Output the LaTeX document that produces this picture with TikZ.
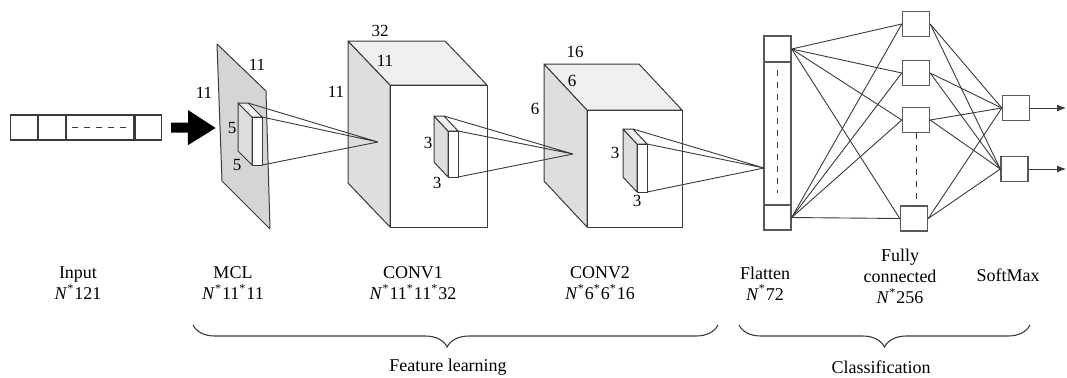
\documentclass[tikz,border=0pt]{standalone}
\usepackage{fontspec}
\setmainfont{Liberation Serif}
\usetikzlibrary{arrows.meta,decorations.pathreplacing,positioning}

\definecolor{planegray}{HTML}{D5D5D5}
\definecolor{sidegray}{HTML}{DEDEDE}
\definecolor{topgray}{HTML}{EFEFEF}
\definecolor{edgegray}{HTML}{3A3A3A}

% box seen from the front-right: front x1..x2, y1..y2, depth offset (dx,dy)
\newcommand{\cuboid}[6]{%
  \filldraw[face, fill=sidegray] (#1,#2) -- ++(#5,#6) -- ({#1+#5},{#4+#6}) -- (#1,#4) -- cycle;
  \filldraw[face, fill=topgray] (#1,#2) -- ++(#5,#6) -- ({#3+#5},{#2+#6}) -- (#3,#2) -- cycle;
  \filldraw[face, fill=white] (#1,#2) rectangle (#3,#4);
}

\begin{document}
\begin{tikzpicture}[x=0.5pt,y=-0.5pt,
    face/.style={draw=edgegray, line width=0.5pt, line join=round},
    cell/.style={draw=edgegray, line width=0.6pt, minimum width=13.3pt, minimum height=12.5pt, inner sep=0pt},
    unit/.style={draw=edgegray!85, line width=0.7pt, fill=white, minimum width=13.5pt, minimum height=12.5pt, inner sep=0pt},
    wire/.style={draw=edgegray, line width=0.45pt},
    dim/.style={font=\fontsize{8.5}{10}\selectfont, inner sep=0pt},
    caption/.style={font=\fontsize{9}{10.5}\selectfont, align=center, inner sep=0pt},
    group/.style={decorate, decoration={brace, mirror, amplitude=11pt}, draw=edgegray, line width=0.55pt}]
  \useasboundingbox (0,0) rectangle (1067,377);

  % input vector
  \node[cell] (inA) at (24,127.5) {};
  \node[cell, right=0pt of inA] (inB) {};
  \node[cell, right=0pt of inB, minimum width=33.7pt] (inC) {};
  \node[cell, right=0pt of inC] (inD) {};
  \draw[dashed, edgegray, line width=0.4pt] ([xshift=3pt]inC.west) -- ([xshift=-1.5pt]inC.east);

  % MCL plane
  \filldraw[face, fill=planegray] (217,44) -- (266,91) -- (270,229) -- (222,181) -- cycle;
  \coordinate (mclin) at (216,128);
  \draw[-{Triangle[length=14pt,width=16.5pt]}, line width=5pt] ([xshift=4.5pt]inD.east) -- (mclin);

  % conv blocks and kernels
  \cuboid{390}{85}{487}{227}{-42}{-44}
  \cuboid{587}{110}{682}{227}{-43}{-46}
  \cuboid{252}{117}{262}{165}{-14}{-14}
  \cuboid{448}{131}{458}{177}{-14}{-15}
  \cuboid{637}{144}{647}{192}{-14}{-15}

  \coordinate (k1-a) at (248,103);
  \coordinate (k1-b) at (262,117);
  \coordinate (k1-c) at (262,165);
  \coordinate (k2-a) at (444,116);
  \coordinate (k2-b) at (458,131);
  \coordinate (k2-c) at (458,177);
  \coordinate (k3-a) at (633,129);
  \coordinate (k3-b) at (647,144);
  \coordinate (k3-c) at (647,192);
  \coordinate (c1) at (378,142);
  \coordinate (c2) at (573,154);
  \coordinate (f0) at (764,168);

  % flatten
  \node[unit, minimum height=97pt] (flat) at (777.5,133) {};
  \node[unit, minimum height=13pt, anchor=north] (flatT) at (flat.north) {};
  \node[unit, anchor=south] (flatB) at (flat.south) {};
  \draw[dashed, edgegray, line width=0.45pt] (777.5,70) -- (777.5,193);

  \foreach \k/\a in {k1/c1,k2/c2,k3/f0}
    \draw[wire] (\k-a) -- (\a) (\k-b) -- (\a) (\k-c) -- (\a);

  % fully connected and softmax
  \node[unit] (fc1) at (916,24) {};
  \node[unit] (fc2) at (916,73) {};
  \node[unit] (fc3) at (916,120) {};
  \node[unit] (fc4) at (914,218.5) {};
  \node[unit] (sm1) at (1016,108) {};
  \node[unit] (sm2) at (1014.5,169) {};
  \coordinate (out1) at (1066,108);
  \coordinate (out2) at (1066,169);
  \draw[dashed, edgegray, line width=0.45pt] (fc3.south) -- (fc3.south |- fc4.north);

  \foreach \s in {flatT,flatB}
    \foreach \t in {fc1,fc2,fc3,fc4}
      \draw[wire] (\s.east) -- (\t.west);
  \foreach \s in {fc1,fc2,fc3,fc4}
    \foreach \t in {sm1,sm2}
      \draw[wire] (\s.east) -- (\t.west);
  \draw[wire, -{Latex[length=4.5pt,width=3.5pt]}] (sm1.east) -- (out1);
  \draw[wire, -{Latex[length=4.5pt,width=3.5pt]}] (sm2.east) -- (out2);

  % sizes
  \node[dim] (mclh) at (204,93) {11};
  \node[dim] (mclw) at (257,65) {11};
  \node[dim] (k1h) at (232,128) {5};
  \node[dim] (k1w) at (237,165) {5};
  \node[dim] (c1d) at (380,31) {32};
  \node[dim] (c1w) at (385,61) {11};
  \node[dim] (c1h) at (336,92) {11};
  \node[dim] (k2h) at (428,143) {3};
  \node[dim] (k2w) at (437,183) {3};
  \node[dim] (c2d) at (575,52) {16};
  \node[dim] (c2w) at (572,81) {6};
  \node[dim] (c2h) at (535,109) {6};
  \node[dim] (k3h) at (615,153) {3};
  \node[dim] (k3w) at (637,201) {3};

  % layer captions
  \node[caption] (capin) at (78,283.5) {Input\\\textit{N}\textsuperscript{*}121};
  \node[caption] (capmcl) at (233,283.5) {MCL\\\textit{N}\textsuperscript{*}11\textsuperscript{*}11};
  \node[caption] (capc1) at (413,283.5) {CONV1\\\textit{N}\textsuperscript{*}11\textsuperscript{*}11\textsuperscript{*}32};
  \node[caption] (capc2) at (600,283.5) {CONV2\\\textit{N}\textsuperscript{*}6\textsuperscript{*}6\textsuperscript{*}16};
  \node[caption] (capfl) at (765,283.5) {Flatten\\\textit{N}\textsuperscript{*}72};
  \node[caption] (capfc) at (900,276.5) {Fully\\connected\\\textit{N}\textsuperscript{*}256};
  \node[caption] (capsm) at (1008,275) {SoftMax};

  % groups
  \coordinate (g1a) at (193,325);
  \coordinate (g1b) at (718,325);
  \coordinate (g2a) at (739,325);
  \coordinate (g2b) at (1030,325);
  \draw[group, decoration={aspect=0.484}] (g1a) -- (g1b);
  \draw[group] (g2a) -- (g2b);
  \node[caption] (featlab) at (448,367) {Feature learning};
  \node[caption] (clslab) at (881,367) {Classification};
\end{tikzpicture}
\end{document}
